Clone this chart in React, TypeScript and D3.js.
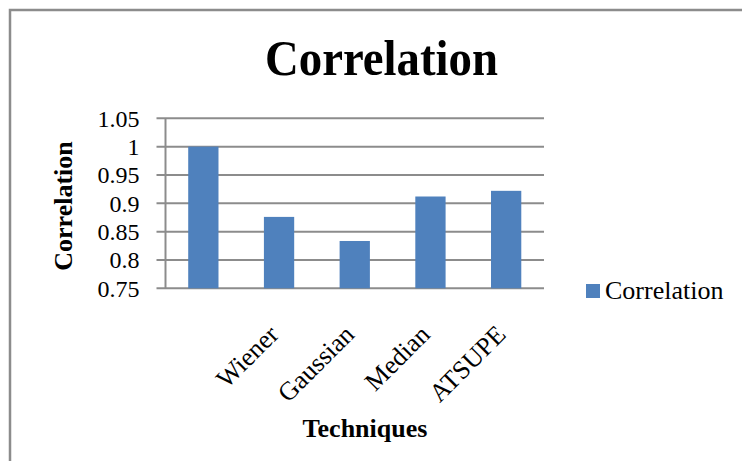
import React from "react";
import * as d3 from "d3";

const categories = ["", "Wiener", "Gaussian", "Median", "ATSUPE"];
const correlation = [1.0, 0.876, 0.8335, 0.912, 0.922];
const yTicks = [0.75, 0.8, 0.85, 0.9, 0.95, 1, 1.05];
const seriesName = "Correlation";

const W = 742;
const H = 461;
const plot = { left: 165.5, right: 544, top: 118.3, bottom: 288.3 };
const barColor = "#4f81bd";
const gridColor = "#8c8c8c";
const serif = "'Liberation Serif', 'Times New Roman', serif";

export default function App() {
  const x = d3
    .scaleBand<string>()
    .domain(categories)
    .range([plot.left, plot.right])
    .paddingInner(0.6)
    .paddingOuter(0.3);
  const y = d3.scaleLinear().domain([0.75, 1.05]).range([plot.bottom, plot.top]);
  const fmt = (v: number) => String(+v.toFixed(2));

  return (
    <svg
      width={W}
      height={H}
      style={{ position: "absolute", left: 0, top: 0, background: "#fff", fontFamily: serif }}
    >
      <rect x={10} y={10} width={900} height={600} fill="#fff" stroke="#8c8c8c" strokeWidth={2.5} />

      <text
        x={381.5}
        y={75}
        textAnchor="middle"
        fontFamily={serif}
        fontSize={51}
        fontWeight="bold"
        textLength={233}
        lengthAdjust="spacingAndGlyphs"
      >
        Correlation
      </text>

      {/* gridlines with outward ticks */}
      {yTicks.map((t) => (
        <g key={t}>
          <line x1={plot.left - 9} x2={plot.right} y1={y(t)} y2={y(t)} stroke={gridColor} strokeWidth={2} />
          <text x={139.5} y={y(t) + 8.5} textAnchor="end" fontFamily={serif} fontSize={24}>
            {fmt(t)}
          </text>
        </g>
      ))}
      <line x1={plot.left} x2={plot.left} y1={plot.top} y2={plot.bottom} stroke={gridColor} strokeWidth={2} />

      {categories.map((c, i) => (
        <rect
          key={i}
          x={x(c)!}
          y={y(correlation[i])}
          width={x.bandwidth()}
          height={plot.bottom - y(correlation[i])}
          fill={barColor}
        />
      ))}

      {categories.map((c, i) => {
        const cx = x(c)! + x.bandwidth() / 2 + 1;
        const cy = 336;
        return (
          <text
            key={i}
            transform={`translate(${cx},${cy}) rotate(-45)`}
            textAnchor="end"
            fontFamily={serif}
            fontSize={26}
          >
            {c}
          </text>
        );
      })}

      <text x={365} y={437} textAnchor="middle" fontFamily={serif} fontSize={26} fontWeight="bold">
        Techniques
      </text>
      <text
        transform="translate(72,206) rotate(-90)"
        textAnchor="middle"
        fontFamily={serif}
        fontSize={26}
        fontWeight="bold"
      >
        Correlation
      </text>

      <rect x={586} y={284} width={14} height={14} fill={barColor} />
      <text x={605} y={299} fontFamily={serif} fontSize={26}>
        {seriesName}
      </text>
    </svg>
  );
}
